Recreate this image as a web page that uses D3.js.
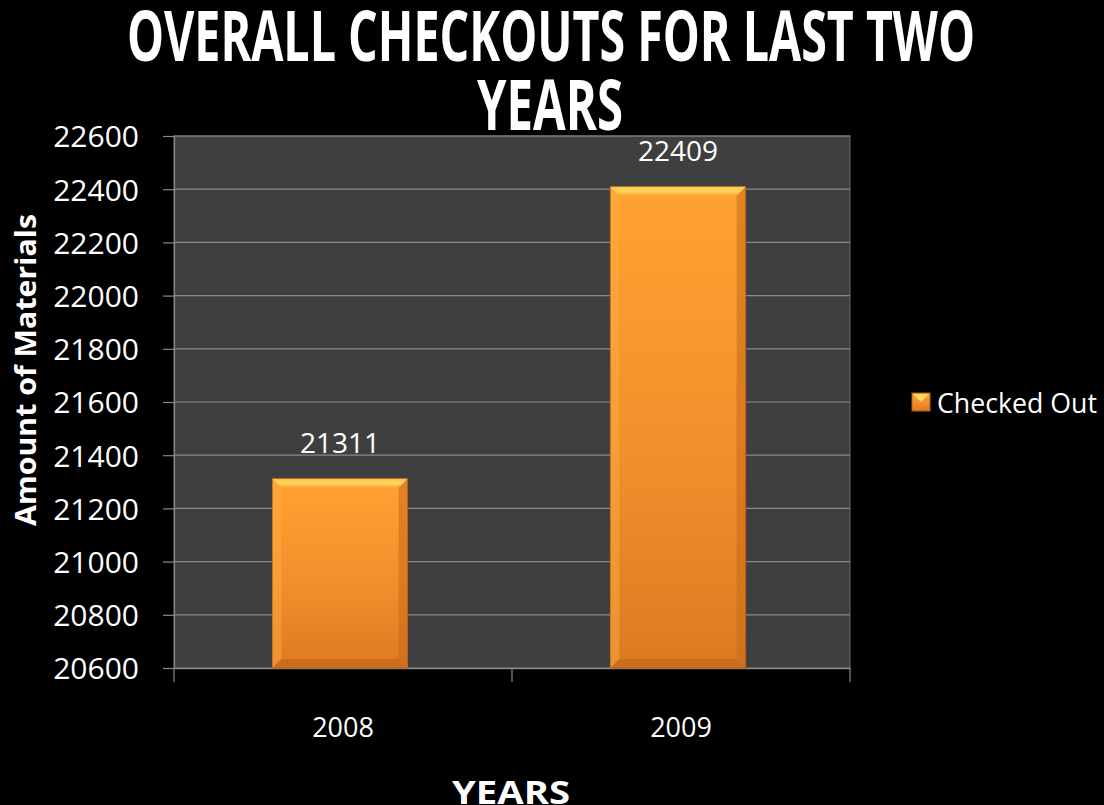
<!DOCTYPE html>
<html>
<head>
<meta charset="utf-8">
<script src="https://cdn.jsdelivr.net/npm/d3@7"></script>
<style>
  html, body { margin: 0; padding: 0; background: #000; }
  svg { display: block; }
  text { font-family: "Open Sans", sans-serif; fill: #fff; }
</style>
</head>
<body>
<svg id="chart" width="1104" height="805"></svg>
<script>
var years = ['2008', '2009'];
var checkedOut = [21311, 22409];
var yTicks = [20600, 20800, 21000, 21200, 21400, 21600, 21800, 22000, 22200, 22400, 22600];
var seriesName = 'Checked Out';

var svg = d3.select('#chart');
var plotLeft = 174, plotRight = 850, plotTop = 136, plotBottom = 668;

var x = d3.scaleBand().domain(years).range([plotLeft, plotRight]);
var y = d3.scaleLinear().domain([20600, 22600]).range([plotBottom, plotTop]);

var defs = svg.append('defs');
var g1 = defs.append('linearGradient').attr('id', 'barFill').attr('x1', 0).attr('y1', 0).attr('x2', 0).attr('y2', 1);
g1.append('stop').attr('offset', '0%').attr('stop-color', '#ffa232');
g1.append('stop').attr('offset', '55%').attr('stop-color', '#f28f2c');
g1.append('stop').attr('offset', '100%').attr('stop-color', '#dc7a22');
var g2 = defs.append('linearGradient').attr('id', 'bevelTop').attr('x1', 0).attr('y1', 0).attr('x2', 0).attr('y2', 1);
g2.append('stop').attr('offset', '0%').attr('stop-color', '#ffc24a');
g2.append('stop').attr('offset', '50%').attr('stop-color', '#ffd860');
g2.append('stop').attr('offset', '100%').attr('stop-color', '#ffa232');

// plot background
svg.append('rect').attr('x', plotLeft).attr('y', plotTop).attr('width', plotRight - plotLeft).attr('height', plotBottom - plotTop)
  .attr('fill', '#3f3f3f').attr('stroke', '#6a6a6a').attr('stroke-width', 1);

// gridlines
svg.append('g').selectAll('line').data(yTicks.slice(1)).join('line')
  .attr('x1', plotLeft).attr('x2', plotRight).attr('y1', d => y(d)).attr('y2', d => y(d))
  .attr('stroke', '#8a8a8a').attr('stroke-width', 1.2);

// y axis
var yAxis = svg.append('g').attr('transform', 'translate(' + plotLeft + ',0)')
  .call(d3.axisLeft(y).tickValues(yTicks).tickSize(11).tickPadding(24).tickFormat(d3.format('d')));
yAxis.select('.domain').attr('stroke', '#8a8a8a').attr('stroke-width', 1.2);
yAxis.selectAll('.tick line').attr('stroke', '#8a8a8a').attr('stroke-width', 1.2);
yAxis.selectAll('.tick text').attr('fill', '#fff').style('font-size', '30px')
  .style('font-family', '"Open Sans", sans-serif').attr('dy', '0.36em');

// x axis
var xAxis = svg.append('g').attr('transform', 'translate(0,' + plotBottom + ')')
  .call(d3.axisBottom(x).tickSize(0).tickPadding(50));
xAxis.select('.domain').attr('stroke', '#8a8a8a').attr('stroke-width', 1.5);
xAxis.selectAll('.tick text').attr('fill', '#fff').style('font-size', '27px')
  .style('font-family', '"Open Sans", sans-serif');
var xTickPos = [plotLeft, plotLeft + x.step(), plotRight];
svg.append('g').selectAll('line').data(xTickPos).join('line')
  .attr('x1', d => d).attr('x2', d => d).attr('y1', plotBottom).attr('y2', plotBottom + 14)
  .attr('stroke', '#8a8a8a').attr('stroke-width', 1.2);

// bars
var bw = x.bandwidth() * 0.4;
var bars = svg.append('g').selectAll('g').data(years).join('g');
bars.each(function(d, i) {
  var gg = d3.select(this);
  var x0 = x(d) + (x.bandwidth() - bw) / 2 - 3, x1 = x0 + bw;
  var y0 = y(checkedOut[i]), y1 = y(20600);
  var b = 9;
  gg.append('rect').attr('x', x0).attr('y', y0).attr('width', bw).attr('height', y1 - y0)
    .attr('fill', 'url(#barFill)').attr('stroke', '#b0601a').attr('stroke-width', 1);
  gg.append('polygon').attr('points', [[x0, y0], [x1, y0], [x1 - b, y0 + b], [x0 + b, y0 + b]].join(' '))
    .attr('fill', 'url(#bevelTop)');
  gg.append('polygon').attr('points', [[x0, y0], [x0 + b, y0 + b], [x0 + b, y1 - b], [x0, y1]].join(' '))
    .attr('fill', '#ffb040').attr('opacity', 0.45);
  gg.append('polygon').attr('points', [[x1, y0], [x1 - b, y0 + b], [x1 - b, y1 - b], [x1, y1]].join(' '))
    .attr('fill', '#c86a1a').attr('opacity', 0.55);
  gg.append('polygon').attr('points', [[x0, y1], [x0 + b, y1 - b], [x1 - b, y1 - b], [x1, y1]].join(' '))
    .attr('fill', '#c26418').attr('opacity', 0.6);
  gg.append('text').attr('x', (x0 + x1) / 2).attr('y', y0 - 26).attr('text-anchor', 'middle')
    .style('font-size', '28px').text(checkedOut[i]);
});

// title
svg.append('text').attr('x', 551).attr('y', 61).attr('text-anchor', 'middle')
  .attr('textLength', 848).attr('lengthAdjust', 'spacingAndGlyphs')
  .style('font-size', '70px').style('font-weight', 'bold').text('OVERALL CHECKOUTS FOR LAST TWO');
svg.append('text').attr('x', 550).attr('y', 130).attr('text-anchor', 'middle')
  .attr('textLength', 146).attr('lengthAdjust', 'spacingAndGlyphs')
  .style('font-size', '70px').style('font-weight', 'bold').text('YEARS');

// axis titles
svg.append('text').attr('transform', 'translate(36,370) rotate(-90)').attr('text-anchor', 'middle')
  .attr('textLength', 312).attr('lengthAdjust', 'spacingAndGlyphs')
  .style('font-size', '28px').style('font-weight', 'bold').text('Amount of Materials');
svg.append('text').attr('x', 511).attr('y', 804).attr('text-anchor', 'middle')
  .attr('textLength', 118).attr('lengthAdjust', 'spacingAndGlyphs')
  .style('font-size', '32px').style('font-weight', 'bold').text('YEARS');

// legend
var lg = svg.append('g').attr('transform', 'translate(912,393)');
lg.append('rect').attr('width', 18).attr('height', 18).attr('fill', 'url(#barFill)').attr('stroke', '#b0601a');
lg.append('polygon').attr('points', '1,1 17,1 9,9').attr('fill', '#ffd860');
lg.append('text').attr('x', 25).attr('y', 20).attr('textLength', 160).attr('lengthAdjust', 'spacingAndGlyphs')
  .style('font-size', '27px').text(seriesName);
</script>
</body>
</html>
